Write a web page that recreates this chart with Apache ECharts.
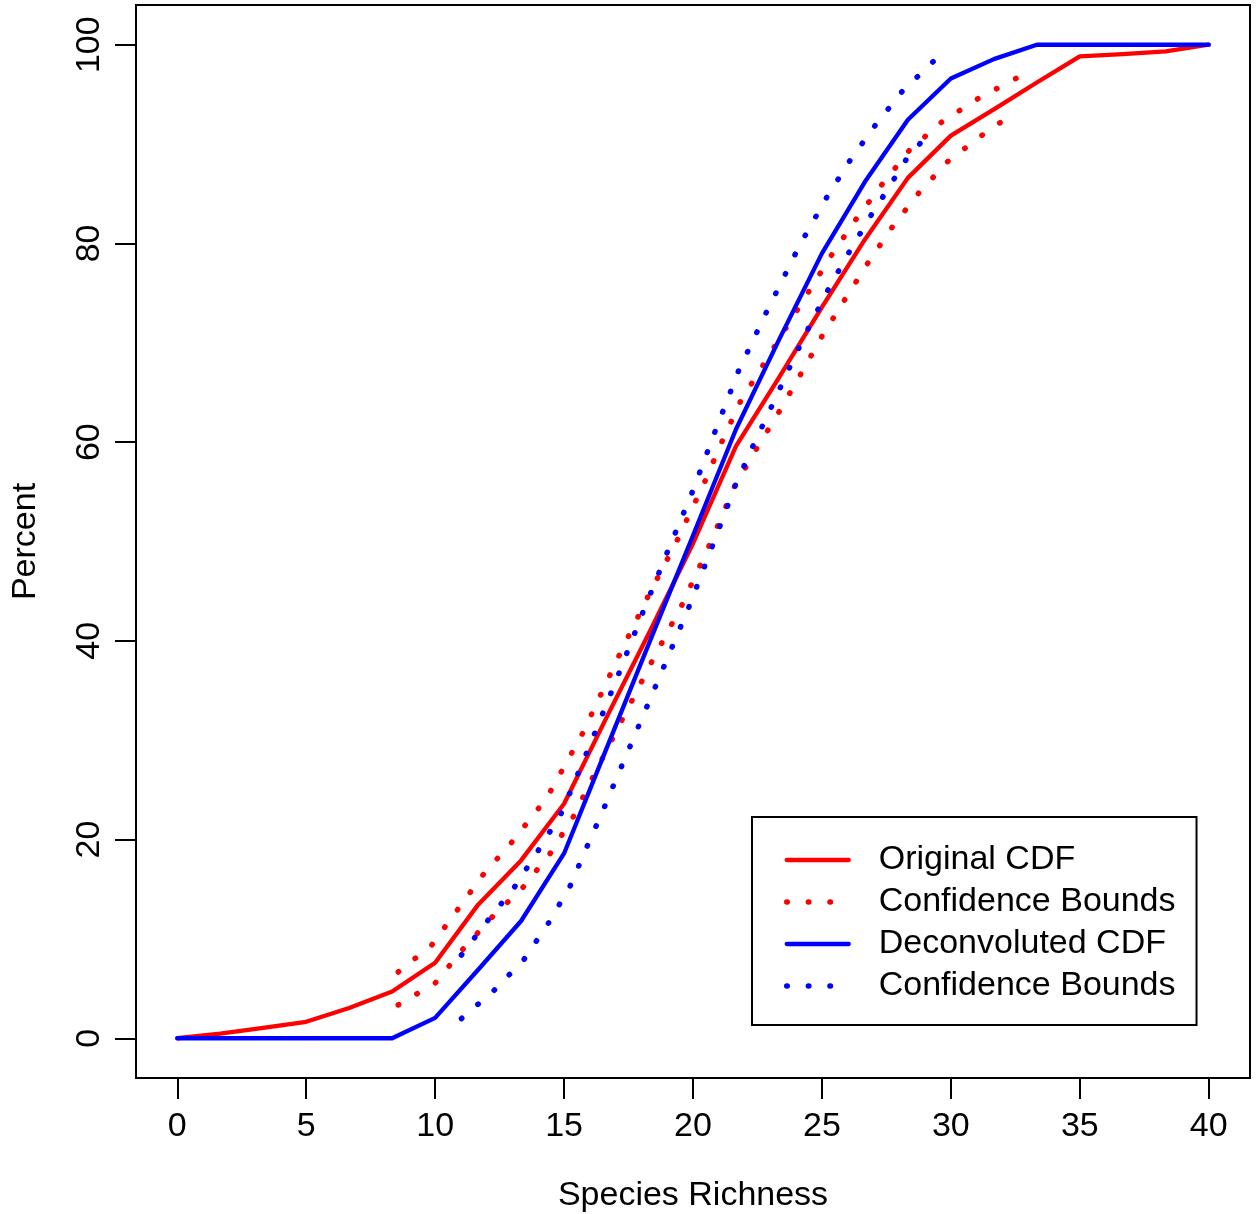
<!DOCTYPE html>
<html>
<head>
<meta charset="utf-8">
<script src="https://cdn.jsdelivr.net/npm/echarts@6/dist/echarts.min.js"></script>
<style>
  html, body { margin: 0; padding: 0; background: #ffffff; }
  #chart { width: 1257px; height: 1214px; }
</style>
</head>
<body>
<div id="chart"></div>
<script>
// ---- data ----
const xGrid = [0, 1.667, 3.333, 5, 6.667, 8.333, 10, 11.667, 13.333, 15, 16.667, 18.333, 20,
               21.667, 23.333, 25, 26.667, 28.333, 30, 31.667, 33.333, 35, 36.667, 38.333, 40];
const originalCDF = [0, 0.47, 1.05, 1.66, 3.05, 4.7, 7.6, 13.45, 17.9, 23.6, 32.4, 41.0, 49.8,
                     59.6, 66.5, 73.6, 80.4, 86.6, 90.85, 93.5, 96.2, 98.83, 99.06, 99.33, 100];
const deconvolutedCDF = [0, 0, 0, 0, 0, 0, 2.05, 6.9, 11.8, 18.6, 29.3, 40.0, 50.6,
                         61.3, 70.3, 79.0, 86.2, 92.45, 96.6, 98.55, 100, 100, 100, 100, 100];

const origUpperX = [8.57, 9.87, 10.86, 11.84, 12.96, 14.0, 14.48, 15.7, 17.13, 18.24, 19.4, 20.47,
                    21.13, 21.84, 22.73, 23.61, 24.5, 25.39, 26.34, 27.35, 28.4, 29.66, 31.07, 32.55];
const origUpperY = [6.67, 9.39, 12.9, 16.4, 19.7, 23.1, 24.9, 30.6, 38.5, 44.4, 50.2, 56.1,
                    60.1, 64.1, 67.8, 71.5, 75.2, 78.9, 82.5, 86.0, 89.4, 92.25, 94.6, 96.65];
const origLowerX = [8.57, 10.02, 11.07, 12.21, 13.41, 14.46, 15.36, 16.1, 17.26, 18.4, 19.57, 20.63,
                    21.62, 22.48, 23.35, 24.19, 25.01, 25.9, 26.8, 27.74, 28.76, 29.9, 31.24, 31.93];
const origLowerY = [3.35, 5.6, 8.95, 12.2, 15.2, 18.6, 22.3, 26.2, 32.1, 37.9, 43.6, 49.6,
                    55.6, 59.4, 63.1, 66.9, 70.7, 74.4, 78.1, 81.7, 85.1, 88.3, 90.95, 92.2];

const decUpperX = [11.02, 12.04, 13.09, 14.0, 14.88, 15.22, 16.19, 17.13, 18.06, 19.0, 19.97,
                   20.86, 21.77, 22.85, 23.98, 24.37, 25.2, 26.1, 27.07, 28.11, 29.33];
const decUpperY = [8.38, 11.84, 15.26, 18.9, 22.6, 24.65, 30.7, 36.75, 42.9, 48.9, 54.96,
                   61.1, 67.2, 73.1, 79.0, 80.9, 84.7, 88.4, 91.9, 95.3, 98.35];
const decLowerX = [11.02, 12.29, 13.45, 14.39, 15.23, 15.9, 16.57, 16.9, 17.89, 18.87, 19.84, 20.76,
                   21.65, 22.34, 23.05, 23.76, 24.48, 25.25, 26.07, 26.92, 27.39, 28.28, 28.82];
const decLowerY = [1.98, 4.83, 7.95, 11.57, 15.3, 19.35, 23.3, 25.35, 31.4, 37.4, 43.4, 49.6,
                   55.7, 59.7, 63.6, 67.6, 71.5, 75.4, 79.2, 82.9, 84.8, 88.5, 90.1];

const xTicks = [0, 5, 10, 15, 20, 25, 30, 35, 40];
const yTicks = [0, 20, 40, 60, 80, 100];
const legendNames = ['Original CDF', 'Confidence Bounds', 'Deconvoluted CDF', 'Confidence Bounds '];

// ---- build chart ----
const RED = '#FF0000', BLUE = '#0000FF';
const FONT = 'Liberation Sans, Arial, Helvetica, sans-serif';
const DOT_PERIOD = 21.6;
const DOT_LEN = 0.5;
function pairs(xs, ys) { return xs.map((x, i) => [x, ys[i]]); }

function solid(name, xs, ys, color) {
  return {
    name, type: 'line', data: pairs(xs, ys), symbol: 'none', silent: true,
    lineStyle: { color, width: 4.3, cap: 'round', join: 'round' },
    itemStyle: { color }
  };
}
function dotted(name, xs, ys, color, period) {
  return {
    name, type: 'line', data: pairs(xs, ys), symbol: 'none', silent: true,
    lineStyle: { color, width: 5.5, type: [DOT_LEN, period - DOT_LEN], cap: 'round', join: 'round' },
    itemStyle: { color }
  };
}

const bounds = [
  [legendNames[1], origUpperX, origUpperY, RED],
  [legendNames[1], origLowerX, origLowerY, RED],
  [legendNames[3], decUpperX, decUpperY, BLUE],
  [legendNames[3], decLowerX, decLowerY, BLUE]
];

function buildSeries(periods) {
  return [
    solid(legendNames[0], xGrid, originalCDF, RED),
    dotted(...bounds[0], periods[0]),
    dotted(...bounds[1], periods[1]),
    solid(legendNames[2], xGrid, deconvolutedCDF, BLUE),
    dotted(...bounds[2], periods[2]),
    dotted(...bounds[3], periods[3])
  ];
}

const chart = echarts.init(document.getElementById('chart'), null, { renderer: 'canvas' });
chart.setOption({
  backgroundColor: '#ffffff',
  animation: false,
  textStyle: { fontFamily: FONT },
  grid: {
    left: 136, top: 5, width: 1114, height: 1073, outerBoundsMode: 'none', containLabel: false,
    show: true, borderColor: '#000', borderWidth: 2, backgroundColor: 'transparent'
  },
  xAxis: {
    type: 'value', min: -1.6, max: 41.6,
    name: 'Species Richness', nameLocation: 'middle', nameGap: 101,
    nameTextStyle: { fontSize: 34, color: '#000', fontFamily: FONT },
    axisLine: { show: true, onZero: false, lineStyle: { color: '#000', width: 2 } },
    axisTick: { show: true, customValues: xTicks, length: 21, inside: false,
                lineStyle: { color: '#000', width: 2 } },
    axisLabel: { show: true, customValues: xTicks, fontSize: 34, color: '#000', margin: 32,
                 fontFamily: FONT },
    splitLine: { show: false }
  },
  yAxis: {
    type: 'value', min: -4, max: 104,
    name: 'Percent', nameLocation: 'middle', nameGap: 93,
    nameTextStyle: { fontSize: 34, color: '#000', fontFamily: FONT },
    axisLine: { show: true, onZero: false, lineStyle: { color: '#000', width: 2 } },
    axisTick: { show: true, customValues: yTicks, length: 21, inside: false,
                lineStyle: { color: '#000', width: 2 } },
    axisLabel: { show: true, customValues: yTicks, fontSize: 34, color: '#000', margin: 29,
                 rotate: 90, fontFamily: FONT },
    splitLine: { show: false }
  },
  legend: {
    orient: 'vertical', left: 752, top: 817,
    padding: [26, 21, 22, 32],
    itemWidth: 62, itemHeight: 34, itemGap: 8,
    borderColor: '#000', borderWidth: 2, borderRadius: 0, backgroundColor: '#fff',
    selectedMode: false,
    formatter: (n) => n.trim(),
    textStyle: { fontSize: 34, color: '#000', fontFamily: FONT, padding: [0, 0, 0, 25] },
    itemStyle: { opacity: 0 },
    lineStyle: { width: 'inherit' },
    data: [
      { name: legendNames[0], lineStyle: { width: 4.3 }, itemStyle: { opacity: 0 } },
      { name: legendNames[1], lineStyle: { width: 5.5, type: [DOT_LEN, DOT_PERIOD - DOT_LEN] }, itemStyle: { opacity: 0 } },
      { name: legendNames[2], lineStyle: { width: 4.3 }, itemStyle: { opacity: 0 } },
      { name: legendNames[3], lineStyle: { width: 5.5, type: [DOT_LEN, DOT_PERIOD - DOT_LEN] }, itemStyle: { opacity: 0 } }
    ]
  },
  series: buildSeries([DOT_PERIOD, DOT_PERIOD, DOT_PERIOD, DOT_PERIOD])
});

// Fit the dot spacing of each bound so that dots fall at both path ends (style only).
const periods = bounds.map(([name, xs, ys]) => {
  let len = 0, prev = null;
  xs.forEach((x, i) => {
    const p = chart.convertToPixel({ gridIndex: 0 }, [x, ys[i]]);
    if (prev) len += Math.hypot(p[0] - prev[0], p[1] - prev[1]);
    prev = p;
  });
  const usable = len - 1.2;               // keep the last dot fully inside the path
  const n = Math.max(1, Math.round(usable / DOT_PERIOD));
  return usable / n;
});
chart.setOption({ series: buildSeries(periods) });
</script>
</body>
</html>
